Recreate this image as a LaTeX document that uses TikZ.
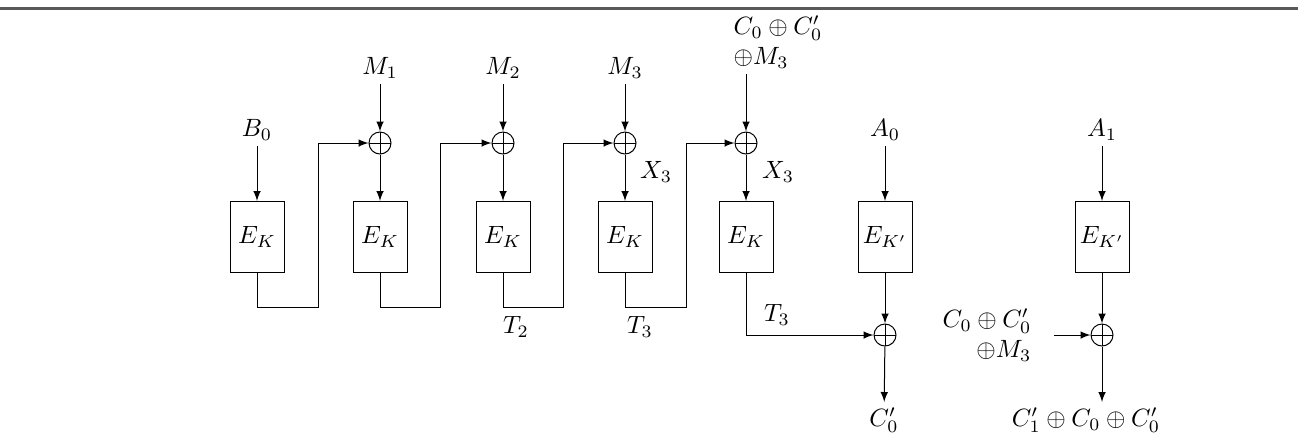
\documentclass[tikz,border=0pt]{standalone}
\usetikzlibrary{arrows.meta}
\begin{document}
\begin{tikzpicture}[x=0.4pt,y=-0.4pt,>=latex,
  ek/.style={draw,minimum width=21.6pt,minimum height=28.4pt,inner sep=0pt},
  xorc/.style={draw,circle,minimum size=8.8pt,inner sep=0pt,
    path picture={\draw (path picture bounding box.north) -- (path picture bounding box.south)
      (path picture bounding box.west) -- (path picture bounding box.east);}},
  lab/.style={inner sep=2pt}]
\useasboundingbox (0,0) rectangle (1298,443);
\draw[gray!70!black,line width=1.1pt] (0,8.5) -- (1298,8.5);
% boxes
\node[ek] (E1) at (257,237) {$E_K$};
\node[ek] (E2) at (380,237) {$E_K$};
\node[ek] (E3) at (503,237) {$E_K$};
\node[ek] (E4) at (625,237) {$E_K$};
\node[ek] (E5) at (746,237) {$E_K$};
\node[ek] (F1) at (885,237) {$E_{K'}$};
\node[ek] (F2) at (1102,237) {$E_{K'}$};
% xors
\node[xorc] (X2) at (380,143) {};
\node[xorc] (X3) at (503,143) {};
\node[xorc] (X4) at (625,143) {};
\node[xorc] (X5) at (746,143) {};
\node[xorc] (Y1) at (885,335) {};
\node[xorc] (Y2) at (1102,335) {};
% labels
\node[lab] (B0) at (257,130) {$B_0$};
\node[lab] (M1) at (380,68) {$M_1$};
\node[lab] (M2) at (503,68) {$M_2$};
\node[lab] (M3) at (625,68) {$M_3$};
\node[lab,align=left] (TL) at (778,42) {$C_0\oplus C'_0$\\$\oplus M_3$};
\node[lab] (A0) at (885,130) {$A_0$};
\node[lab] (A1) at (1102,130) {$A_1$};
\node[lab] (T2) at (516,327) {$T_2$};
\node[lab] (T3a) at (640,327) {$T_3$};
\node[lab] (T3b) at (777,315) {$T_3$};
\node[lab] (X3a) at (656,172) {$X_3$};
\node[lab] (X3b) at (778,172) {$X_3$};
\node[lab,align=right] (K) at (987,335) {$C_0\oplus C'_0$\\$\oplus M_3$};
\node[lab] (O1) at (884,420) {$C'_0$};
\node[lab] (O2) at (1086,420) {$C'_1\oplus C_0\oplus C'_0$};
% turning points
\coordinate (r1) at (318,307);
\coordinate (r2) at (440,307);
\coordinate (r3) at (563,307);
\coordinate (r4) at (686,307);
% arrows
\draw[->] (B0) -- (E1);
\draw[->] (M1) -- (X2);
\draw[->] (M2) -- (X3);
\draw[->] (M3) -- (X4);
\draw[->] (TL.south -| X5) -- (X5);
\draw[->] (A0) -- (F1);
\draw[->] (A1) -- (F2);
\draw[->] (X2) -- (E2);
\draw[->] (X3) -- (E3);
\draw[->] (X4) -- (E4);
\draw[->] (X5) -- (E5);
\draw[->] (E1.south) |- (r1) |- (X2.west);
\draw[->] (E2.south) |- (r2) |- (X3.west);
\draw[->] (E3.south) |- (r3) |- (X4.west);
\draw[->] (E4.south) |- (r4) |- (X5.west);
\draw[->] (E5.south) |- (Y1.west);
\draw[->] (F1) -- (Y1);
\draw[->] (F2) -- (Y2);
\draw[->,shorten <=6.8pt] (K.east) -- (Y2.west);
\draw[->] (Y1) -- (O1);
\draw[->] (Y2) -- (O2.north -| Y2);
\end{tikzpicture}
\end{document}
